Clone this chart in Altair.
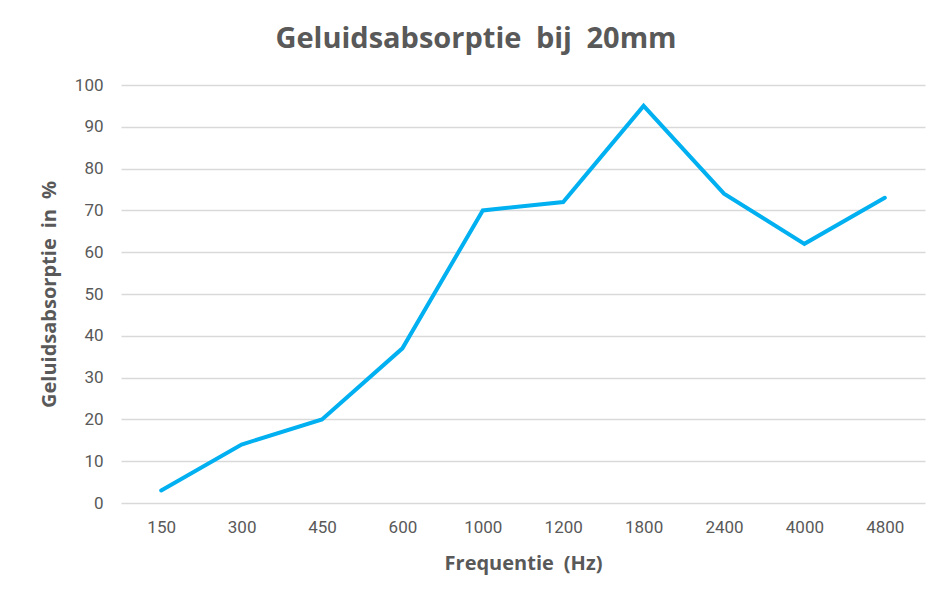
import altair as alt
import pandas as pd

freqs = ["150", "300", "450", "600", "1000", "1200", "1800", "2400", "4000", "4800"]
absorption = [3, 14, 20, 37, 70, 72, 95, 74, 62, 73]

df = pd.DataFrame({"freq": freqs, "abs": absorption})

chart = alt.Chart(df).mark_line(color="#00B0F0", strokeWidth=4, strokeCap="round", strokeJoin="miter").encode(
    x=alt.X("freq:N", sort=freqs, scale=alt.Scale(paddingInner=0, paddingOuter=0.5),
            axis=alt.Axis(title="Frequentie\u2002(Hz)", labelAngle=0, ticks=False, domain=False,
                          grid=False, labelPadding=16, titlePadding=18)),
    y=alt.Y("abs:Q", scale=alt.Scale(domain=[0, 100], nice=False),
            axis=alt.Axis(title="Geluidsabsorptie\u2002in\u2002%", values=list(range(0, 101, 10)),
                          ticks=False, domain=False, gridColor="#d9d9d9", gridWidth=1.5,
                          labelPadding=18, titlePadding=15)),
).properties(
    width=804, height=418,
    title=alt.TitleParams("Geluidsabsorptie\u2002bij\u200220mm", fontSize=29, font="Open Sans",
                          fontWeight="bold", color="#595959", offset=22, dx=-47),
    autosize=alt.AutoSizeParams(type="none"),
    padding={"left": 113, "top": 77, "right": 5, "bottom": 90},
).configure_view(stroke=None).configure_axis(
    labelFont="Roboto", labelFontSize=17, labelColor="#595959",
    titleFont="Open Sans", titleFontSize=20, titleFontWeight="bold", titleColor="#595959",
)

chart.save("out.html", embed_options={"renderer": "svg", "actions": False})
